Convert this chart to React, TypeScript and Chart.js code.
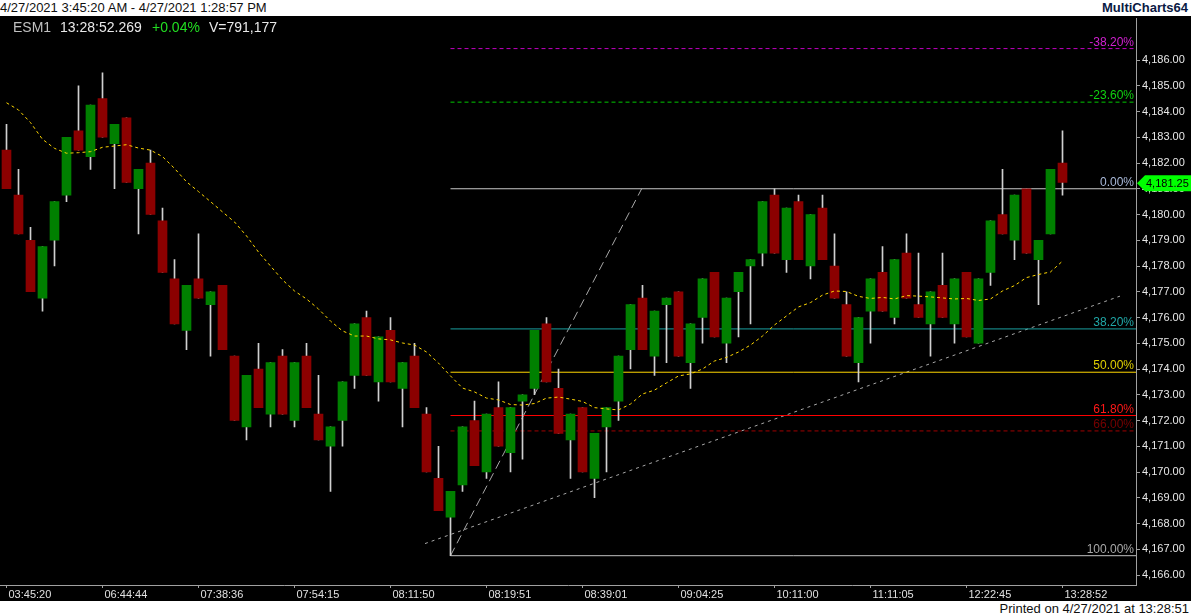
import { useEffect, useRef } from 'react';
import { Chart, registerables } from 'chart.js';

Chart.register(...registerables);

const timeLabels = [
  '03:45:20', '06:44:44', '07:38:36', '07:54:15', '08:11:50', '08:19:51',
  '08:39:01', '09:04:25', '10:11:00', '11:11:05', '12:22:45', '13:28:52',
];

const opens = [
  4182.5, 4180.75, 4179.0, 4176.75, 4179.0, 4180.75, 4183.25, 4182.25, 4184.5, 4182.75,
  4183.75, 4181.0, 4182.0, 4179.75, 4177.5, 4175.5, 4177.5, 4176.5, 4177.25, 4174.5,
  4171.75, 4174.0, 4172.25, 4174.5, 4172.0, 4174.5, 4172.25, 4171.0, 4172.0, 4173.75,
  4176.0, 4173.5, 4175.5, 4173.25, 4174.5, 4172.25, 4169.75, 4168.25, 4169.5, 4172.0,
  4170.0, 4172.5, 4170.75, 4172.75, 4173.25, 4175.75, 4173.25, 4171.25, 4172.5, 4169.75,
  4171.75, 4172.75, 4174.75, 4176.75, 4174.5, 4176.5, 4177.0, 4174.25, 4176.0, 4177.75,
  4175.0, 4177.0, 4178.0, 4178.5, 4180.75, 4178.25, 4180.5, 4178.0, 4180.25, 4178.0,
  4176.5, 4174.25, 4176.25, 4177.75, 4176.0, 4178.5, 4176.5, 4175.75, 4177.25, 4175.75,
  4177.75, 4175.0, 4177.75, 4180.0, 4179.0, 4181.0, 4178.25, 4179.25, 4182.0,
];
const highs = [
  4183.5, 4181.75, 4179.5, 4178.75, 4180.5, 4183.0, 4185.0, 4184.25, 4185.5, 4183.5,
  4183.75, 4181.75, 4182.5, 4180.25, 4178.25, 4177.25, 4179.25, 4177.0, 4177.25, 4174.5,
  4173.75, 4175.0, 4174.25, 4174.75, 4174.25, 4175.0, 4173.75, 4171.75, 4173.5, 4175.75,
  4176.25, 4175.25, 4176.0, 4174.25, 4175.0, 4172.5, 4171.0, 4169.25, 4171.75, 4172.75,
  4172.25, 4173.5, 4172.5, 4173.0, 4175.5, 4176.0, 4174.0, 4172.25, 4172.5, 4171.5,
  4172.5, 4174.5, 4176.5, 4177.25, 4176.25, 4176.75, 4177.0, 4175.75, 4177.5, 4177.75,
  4176.75, 4177.75, 4178.25, 4180.5, 4181.0, 4180.25, 4180.75, 4180.0, 4180.75, 4179.25,
  4177.0, 4176.0, 4177.5, 4178.75, 4178.25, 4179.25, 4178.5, 4177.0, 4178.5, 4177.5,
  4177.75, 4177.5, 4179.75, 4181.75, 4180.75, 4181.0, 4179.0, 4181.75, 4183.25,
];
const lows = [
  4181.0, 4179.25, 4177.0, 4176.25, 4178.0, 4180.5, 4182.5, 4181.75, 4183.0, 4181.0,
  4181.25, 4179.25, 4180.0, 4177.75, 4175.75, 4174.75, 4176.75, 4174.5, 4174.75, 4172.0,
  4171.25, 4172.5, 4171.75, 4172.25, 4171.75, 4172.5, 4171.25, 4169.25, 4171.0, 4173.25,
  4173.75, 4172.75, 4173.5, 4171.75, 4172.5, 4170.0, 4168.5, 4166.75, 4169.25, 4170.25,
  4169.75, 4171.0, 4170.0, 4170.5, 4173.0, 4173.5, 4171.5, 4169.75, 4170.0, 4169.0,
  4170.0, 4172.0, 4174.0, 4174.75, 4173.75, 4174.25, 4174.5, 4173.25, 4175.0, 4175.25,
  4174.25, 4175.25, 4175.75, 4178.0, 4178.5, 4177.75, 4178.25, 4177.5, 4178.25, 4176.75,
  4174.5, 4173.5, 4175.0, 4176.25, 4175.75, 4176.75, 4176.0, 4174.5, 4176.0, 4175.0,
  4175.25, 4175.0, 4177.25, 4179.25, 4178.25, 4178.5, 4176.5, 4179.25, 4180.75,
];
const closes = [
  4181.0, 4179.25, 4177.0, 4178.75, 4180.5, 4183.0, 4182.5, 4184.25, 4183.0, 4183.5,
  4181.25, 4181.75, 4180.0, 4177.75, 4175.75, 4177.25, 4176.75, 4177.0, 4174.75, 4172.0,
  4173.75, 4172.5, 4174.25, 4172.25, 4174.25, 4172.5, 4171.25, 4171.75, 4173.5, 4175.75,
  4173.75, 4175.25, 4173.5, 4174.25, 4172.5, 4170.0, 4168.5, 4169.25, 4171.75, 4170.25,
  4172.25, 4171.0, 4172.5, 4173.0, 4175.5, 4173.5, 4171.5, 4172.25, 4170.0, 4171.5,
  4172.5, 4174.5, 4176.5, 4174.75, 4176.25, 4176.75, 4174.5, 4175.75, 4177.5, 4175.25,
  4176.75, 4177.75, 4178.25, 4180.5, 4178.5, 4180.25, 4178.25, 4180.0, 4178.25, 4176.75,
  4174.5, 4176.0, 4177.5, 4176.25, 4178.25, 4176.75, 4176.0, 4177.0, 4176.0, 4177.5,
  4175.25, 4177.5, 4179.75, 4179.25, 4180.75, 4178.5, 4179.0, 4181.75, 4181.25,
];

// yellow moving average
const average = [
  4184.34, 4184.06, 4183.57, 4182.92, 4182.57, 4182.38, 4182.40, 4182.44, 4182.61, 4182.66,
  4182.71, 4182.58, 4182.50, 4182.25, 4181.79, 4181.27, 4180.89, 4180.50, 4180.10, 4179.71,
  4179.17, 4178.54, 4178.00, 4177.46, 4177.03, 4176.72, 4176.33, 4175.86, 4175.48, 4175.28,
  4175.28, 4175.17, 4175.13, 4175.01, 4174.93, 4174.66, 4174.23, 4173.73, 4173.26, 4173.11,
  4172.87, 4172.80, 4172.62, 4172.60, 4172.66, 4172.87, 4172.91, 4172.83, 4172.74, 4172.50,
  4172.45, 4172.41, 4172.64, 4173.03, 4173.18, 4173.46, 4173.73, 4173.81, 4174.00, 4174.31,
  4174.45, 4174.66, 4174.93, 4175.28, 4175.71, 4176.06, 4176.41, 4176.58, 4176.87, 4177.03,
  4177.01, 4176.82, 4176.74, 4176.78, 4176.72, 4176.85, 4176.83, 4176.80, 4176.76, 4176.72,
  4176.74, 4176.66, 4176.72, 4177.03, 4177.24, 4177.55, 4177.67, 4177.77, 4178.19,
];

// fibonacci retracement drawn from the swing low to the high
const fibLow = 4166.75;
const fibHigh = 4181.0;
const fibStartBar = 37;
const fibLevels = [-38.2, -23.6, 0, 38.2, 50, 61.8, 66, 100];
const fibLineColors = ['#c000c0', '#00c800', '#c8c8c8', '#1a9f9f', '#ffd700', '#ff0000', '#a00000', '#c0c0c0'];
const fibTextColors = ['#d020d0', '#10d010', '#a8b8d8', '#20a8a8', '#e0d000', '#ff1818', '#780000', '#a8a8a8'];
const fibDashed = [true, true, false, false, false, false, true, false];

// hand drawn trend lines: [bar, price]
const fibTrend = [[37, 4166.75], [52.93, 4181.0]];
const supportLine = [[34.875, 4167.22], [92.79, 4176.83]];

const xMin = -0.5417;
const xMax = 94.125;
const lastLabelled = 4186;

// price scale of the original: 4,186 sits 44px below the canvas top, 25.75px per point
const scaleRefPrice = 4186;
const scaleRefY = 44;
const pxPerPoint = 25.75;

const fmtPrice = (v: number) =>
  v.toLocaleString('en-US', { minimumFractionDigits: 2, maximumFractionDigits: 2 });

const overlay = {
  id: 'overlay',
  afterDraw(chart: any) {
    const { ctx, chartArea, scales } = chart;
    ctx.save();

    // fib labels
    ctx.font = '12px "Liberation Sans", Arial, sans-serif';
    ctx.textAlign = 'right';
    ctx.textBaseline = 'alphabetic';
    fibLevels.forEach((lvl, i) => {
      const price = fibHigh - (lvl / 100) * (fibHigh - fibLow);
      const y = scales.y.getPixelForValue(price);
      ctx.fillStyle = fibTextColors[i];
      ctx.fillText(lvl.toFixed(2) + '%', chartArea.right - 2, y - 3);
    });

    // symbol line
    ctx.font = '14px "Liberation Sans", Arial, sans-serif';
    ctx.textAlign = 'left';
    ctx.textBaseline = 'middle';
    ctx.fillStyle = '#c0c0c0';
    ctx.fillText('ESM1', 13, 12);
    ctx.fillStyle = '#e8e8e8';
    ctx.fillText('13:28:52.269', 60, 12);
    ctx.fillStyle = '#22dd22';
    ctx.fillText('+0.04%', 152, 12);
    ctx.fillStyle = '#e8e8e8';
    ctx.fillText('V=791,177', 209, 12);

    // last price tag
    const last = closes[closes.length - 1];
    const ty = scales.y.getPixelForValue(last) + 1;
    const tx = chartArea.right + 1;
    ctx.fillStyle = '#00ff00';
    ctx.beginPath();
    ctx.moveTo(tx, ty);
    ctx.lineTo(tx + 8, ty - 8);
    ctx.lineTo(chart.width, ty - 8);
    ctx.lineTo(chart.width, ty + 8);
    ctx.lineTo(tx + 8, ty + 8);
    ctx.closePath();
    ctx.fill();
    ctx.fillStyle = '#000';
    ctx.font = '11px "Liberation Sans", Arial, sans-serif';
    ctx.fillText(fmtPrice(last), tx + 9, ty + 0.5);

    ctx.restore();
  },
};

const App = () => {
  const canvasRef = useRef<HTMLCanvasElement | null>(null);

  useEffect(() => {
    document.body.style.margin = '0';
    if (!canvasRef.current) return;

    const bars = opens.map((_, i) => i);
    const bodyColors = bars.map((i) => (closes[i] >= opens[i] ? '#008000' : '#8b0000'));

    const fibSets = fibLevels.map((lvl, i) => {
      const price = fibHigh - (lvl / 100) * (fibHigh - fibLow);
      return {
        type: 'line' as const,
        data: [
          { x: fibStartBar, y: price },
          { x: xMax, y: price },
        ],
        borderColor: fibLineColors[i],
        borderWidth: 1,
        borderDash: fibDashed[i] ? [4, 3] : [],
        pointRadius: 0,
        order: 3,
      };
    });

    const chart = new Chart(canvasRef.current, {
      type: 'bar',
      data: {
        datasets: [
          ...fibSets,
          {
            type: 'line',
            data: fibTrend.map(([x, y]) => ({ x, y })),
            borderColor: '#a8a8a8',
            borderWidth: 1,
            borderDash: [9, 5],
            pointRadius: 0,
            order: 3,
          },
          {
            type: 'line',
            data: supportLine.map(([x, y]) => ({ x, y })),
            borderColor: '#a8a8a8',
            borderWidth: 1,
            borderDash: [3, 4],
            pointRadius: 0,
            order: 3,
          },
          {
            type: 'bar',
            data: bars.map((i) => ({ x: i, y: [lows[i], highs[i]] })),
            backgroundColor: '#d0d0d0',
            barThickness: 1,
            grouped: false,
            order: 2,
          },
          {
            type: 'bar',
            data: bars.map((i) => ({ x: i, y: [opens[i], closes[i]] })),
            backgroundColor: bodyColors,
            barThickness: 9,
            grouped: false,
            order: 1,
          },
          {
            type: 'line',
            data: bars.map((i) => ({ x: i, y: average[i] })),
            borderColor: '#ffd700',
            borderWidth: 1,
            borderDash: [3, 3],
            pointRadius: 0,
            order: 0,
          },
        ] as any,
      },
      options: {
        animation: false,
        responsive: false,
        events: [],
        layout: { padding: 0, autoPadding: false },
        plugins: {
          legend: { display: false },
          tooltip: { enabled: false },
        },
        scales: {
          x: {
            type: 'linear',
            min: xMin,
            max: xMax,
            offset: false,
            afterFit: (s: any) => {
              s.height = 16;
            },
            grid: {
              offset: false,
              drawOnChartArea: false,
              drawTicks: true,
              tickLength: 3,
              color: '#a0a0a0',
            },
            border: { color: '#a0a0a0' },
            ticks: {
              stepSize: 8,
              includeBounds: false,
              autoSkip: false,
              maxRotation: 0,
              align: 'start',
              labelOffset: 2,
              padding: 0,
              color: '#e0e0e0',
              font: { family: '"Liberation Sans", Arial, sans-serif', size: 11 },
              callback: (v: any) => timeLabels[Math.round(Number(v) / 8)] ?? '',
            },
          },
          y: {
            position: 'right',
            min: 4165.6,
            max: 4187.7,
            afterBuildTicks: (s: any) => {
              s.ticks = s.ticks.filter((t: any) => t.value <= lastLabelled);
            },
            afterFit: (s: any) => {
              s.width = 55;
            },
            grid: {
              drawOnChartArea: false,
              drawTicks: true,
              tickLength: 4,
              color: '#a0a0a0',
            },
            border: { color: '#a0a0a0' },
            ticks: {
              stepSize: 1,
              includeBounds: false,
              autoSkip: false,
              padding: 2,
              color: '#e8e8e8',
              font: { family: '"Liberation Sans", Arial, sans-serif', size: 11, lineHeight: 0.05 },
              callback: (v: any) => fmtPrice(Number(v)),
            },
          },
        },
      } as any,
      plugins: [overlay],
    });

    // fit the price range to the plot area that the layout produced
    const area = chart.chartArea;
    const yOpts = (chart.options.scales as any).y;
    yOpts.max = scaleRefPrice + (scaleRefY - area.top) / pxPerPoint;
    yOpts.min = scaleRefPrice - (area.bottom - scaleRefY) / pxPerPoint;
    chart.update();

    return () => {
      chart.destroy();
    };
  }, []);

  return (
    <div
      style={{
        position: 'relative',
        width: 1191,
        height: 616,
        background: '#fff',
        overflow: 'hidden',
        fontFamily: '"Liberation Sans", Arial, sans-serif',
      }}
    >
      <div style={{ position: 'absolute', left: 0, top: 0, width: 1191, height: 16, fontSize: 13, lineHeight: '16px' }}>
        <span style={{ position: 'absolute', left: 0, top: 0, color: '#101010' }}>
          4/27/2021 3:45:20 AM - 4/27/2021 1:28:57 PM
        </span>
        <span style={{ position: 'absolute', right: 3, top: 0, fontWeight: 'bold', color: '#0b1a44' }}>
          MultiCharts64
        </span>
      </div>
      <canvas
        ref={canvasRef}
        width={1191}
        height={585}
        style={{ position: 'absolute', left: 0, top: 16, width: 1191, height: 585, background: '#000' }}
      />
      <div
        style={{
          position: 'absolute',
          right: 2,
          top: 601,
          height: 15,
          fontSize: 13,
          lineHeight: '15px',
          color: '#101010',
        }}
      >
        Printed on 4/27/2021 at 13:28:51
      </div>
    </div>
  );
};

export default App;
